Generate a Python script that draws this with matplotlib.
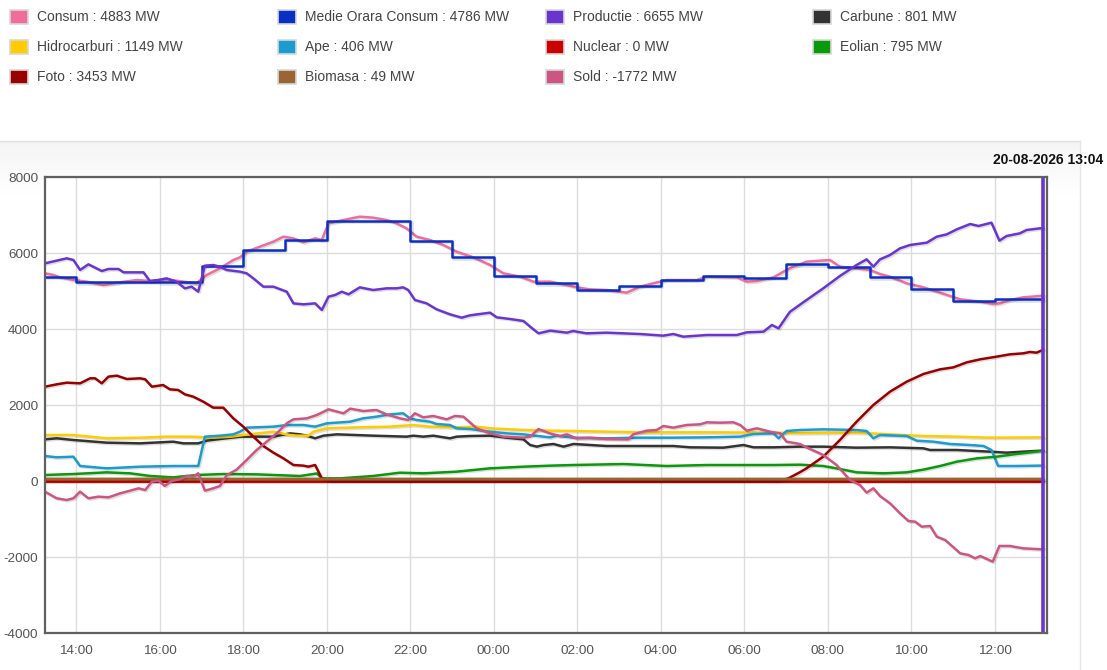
import matplotlib
matplotlib.use("Agg")
import matplotlib.pyplot as plt
import matplotlib.patheffects as pe
from matplotlib.patches import Rectangle
from matplotlib.lines import Line2D
import numpy as np

plt.rcParams['font.family'] = ['Liberation Sans', 'DejaVu Sans']
plt.rcParams['axes.unicode_minus'] = False

# times are hours counted from 00:00 of the first day (37.16 = 13:10 next day)
consum_t = [13.25, 13.45, 13.61, 13.93, 14.25, 14.65, 14.97, 15.45, 15.77, 16.16, 16.56, 16.88,
            17.12, 17.44, 17.76, 17.92, 18.08, 18.40, 18.72, 18.96, 19.20, 19.44, 19.72, 19.88,
            20.04, 20.40, 20.79, 21.11, 21.43, 21.67, 21.91, 22.15, 22.47, 22.79, 23.11, 23.51,
            23.91, 24.23, 24.63, 24.95, 25.35, 25.75, 25.98, 26.30, 26.70, 27.18, 27.50, 27.82,
            28.14, 28.86, 29.10, 29.82, 30.06, 30.30, 30.70, 31.01, 31.17, 31.33, 31.49, 32.05,
            32.29, 32.69, 33.01, 33.25, 33.49, 33.89, 34.29, 34.69, 34.93, 35.17, 35.65, 35.96,
            36.12, 36.36, 36.68, 37.08, 37.16]
consum_v = [5465, 5421, 5360, 5289, 5246, 5158, 5219, 5289, 5263, 5307, 5246, 5202,
            5421, 5596, 5816, 5886, 6035, 6167, 6298, 6430, 6386, 6281, 6386, 6342,
            6781, 6868, 6956, 6930, 6868, 6781, 6649, 6430, 6342, 6211, 6035, 5886,
            5684, 5465, 5377, 5246, 5246, 5158, 5096, 5044, 5026, 4956, 5114, 5202,
            5289, 5289, 5377, 5360, 5246, 5263, 5360, 5553, 5640, 5702, 5772, 5816,
            5640, 5596, 5553, 5447, 5377, 5202, 5096, 4956, 4868, 4781, 4719, 4658,
            4675, 4763, 4833, 4868, 4883]

medie_t = [13.25, 14, 15, 16, 17, 18, 19, 20, 21, 22, 23, 24, 25, 26, 27, 28, 29, 30,
           31, 32, 33, 34, 35, 36, 37.16]
medie_v = [5377, 5228, 5240, 5228, 5667, 6080, 6342, 6842, 6842, 6316, 5886, 5404, 5202,
           5026, 5132, 5290, 5395, 5350, 5700, 5640, 5360, 5044, 4746, 4786, 4786]

prod_t = [13.25, 13.77, 13.93, 14.09, 14.29, 14.61, 14.77, 15.01, 15.13, 15.61, 15.76, 15.96,
          16.16, 16.40, 16.60, 16.76, 16.92, 17.08, 17.28, 17.44, 17.60, 17.92, 18.08, 18.24,
          18.48, 18.72, 19.04, 19.20, 19.44, 19.72, 19.88, 20.04, 20.20, 20.36, 20.52, 20.79,
          21.11, 21.43, 21.67, 21.83, 21.95, 22.11, 22.39, 22.63, 22.95, 23.23, 23.43, 23.91,
          24.07, 24.39, 24.71, 24.87, 25.07, 25.35, 25.75, 25.90, 26.22, 26.70, 27.50, 28.06,
          28.30, 28.54, 29.10, 29.82, 30.06, 30.46, 30.66, 30.82, 31.09, 31.49, 31.89, 32.29,
          32.69, 32.93, 33.09, 33.25, 33.49, 33.73, 33.97, 34.37, 34.61, 34.85, 35.09, 35.41,
          35.61, 35.92, 36.11, 36.28, 36.60, 36.76, 37.08, 37.16]
prod_v = [5728, 5860, 5816, 5553, 5702, 5526, 5579, 5579, 5491, 5491, 5263, 5289,
          5333, 5246, 5070, 5114, 4982, 5667, 5684, 5640, 5553, 5509, 5465, 5333,
          5114, 5114, 4982, 4675, 4649, 4675, 4500, 4851, 4895, 4982, 4912, 5096,
          5026, 5070, 5070, 5096, 5026, 4763, 4675, 4518, 4386, 4298, 4360, 4430,
          4307, 4263, 4211, 4061, 3886, 3956, 3904, 3947, 3886, 3904, 3868, 3825,
          3868, 3798, 3842, 3842, 3912, 3930, 4105, 4018, 4450, 4763, 5070, 5395,
          5684, 5833, 5640, 5833, 5947, 6123, 6211, 6272, 6430, 6491, 6623, 6763,
          6711, 6798, 6325, 6447, 6518, 6605, 6649, 6655]

carb_t = [13.25, 13.53, 13.93, 14.73, 15.53, 16.32, 16.56, 16.92, 17.12, 17.44, 17.92, 18.72,
          19.12, 19.36, 19.52, 19.72, 19.92, 20.24, 21.11, 21.91, 22.07, 22.31, 22.55, 22.95,
          23.11, 23.43, 23.91, 24.31, 24.71, 24.87, 25.03, 25.19, 25.43, 25.67, 25.91, 26.70,
          27.50, 28.30, 28.70, 29.50, 29.98, 30.22, 30.70, 31.33, 31.89, 32.69, 33.49, 34.29,
          34.45, 35.09, 35.57, 35.89, 36.28, 36.68, 37.16]
carb_v = [1096, 1123, 1079, 1009, 991, 1035, 991, 991, 1061, 1105, 1167, 1167,
          1254, 1228, 1193, 1123, 1193, 1228, 1193, 1167, 1193, 1167, 1193, 1123,
          1167, 1184, 1193, 1140, 1096, 947, 904, 947, 974, 904, 974, 921,
          921, 921, 886, 877, 947, 886, 886, 904, 904, 877, 886, 860,
          816, 816, 789, 772, 746, 772, 801]

hidro_t = [13.25, 13.93, 14.73, 15.53, 16.16, 16.72, 17.28, 17.72, 18.00, 18.72, 19.12, 19.28,
           19.56, 19.68, 20.00, 20.72, 21.51, 22.07, 22.47, 23.11, 23.59, 23.91, 24.71, 25.35,
           25.91, 27.50, 29.10, 30.70, 31.33, 32.69, 33.49, 34.29, 35.09, 35.89, 37.16]
hidro_v = [1210, 1210, 1123, 1140, 1167, 1167, 1140, 1167, 1210, 1298, 1210, 1193,
           1193, 1298, 1386, 1412, 1430, 1474, 1430, 1412, 1430, 1386, 1342, 1325,
           1316, 1281, 1281, 1272, 1260, 1272, 1228, 1184, 1167, 1140, 1149]

ape_t = [13.25, 13.53, 13.93, 14.09, 14.73, 15.53, 16.32, 16.92, 17.08, 17.44, 17.76, 17.92,
         18.08, 18.72, 19.04, 19.44, 19.72, 20.00, 20.56, 20.87, 21.19, 21.51, 21.83, 21.99,
         22.15, 22.47, 22.63, 22.95, 23.11, 23.43, 23.91, 24.31, 24.71, 25.19, 25.35, 25.51,
         25.91, 26.70, 27.50, 28.30, 29.10, 29.90, 30.22, 30.70, 30.82, 31.01, 31.33, 31.89,
         32.69, 32.93, 33.09, 33.25, 33.89, 34.13, 34.53, 34.93, 35.41, 35.73, 35.92, 36.08,
         36.52, 37.16]
ape_v = [658, 623, 640, 395, 333, 377, 395, 395, 1167, 1193, 1228, 1298,
         1404, 1430, 1474, 1474, 1430, 1518, 1561, 1649, 1693, 1754, 1781, 1649,
         1605, 1561, 1500, 1474, 1386, 1368, 1298, 1254, 1228, 1167, 1149, 1193,
         1140, 1123, 1140, 1140, 1149, 1167, 1237, 1254, 1123, 1316, 1342, 1360,
         1342, 1316, 1123, 1210, 1184, 1061, 1035, 974, 947, 921, 816, 395,
         395, 406]

nuclear_t = [13.25, 37.16]
nuclear_v = [0, 0]

eolian_t = [13.25, 13.93, 14.73, 15.29, 15.77, 16.32, 16.88, 17.52, 18.32, 19.36, 19.68, 19.76,
            19.88, 20.32, 21.11, 21.75, 22.31, 23.11, 23.91, 24.71, 25.35, 25.91, 27.10, 28.14,
            29.10, 30.70, 31.33, 31.89, 32.29, 32.69, 33.33, 33.89, 34.29, 34.69, 35.09, 35.57,
            36.04, 36.52, 37.16]
eolian_v = [158, 184, 228, 202, 132, 96, 158, 184, 175, 132, 184, 200,
            70, 70, 132, 219, 202, 246, 333, 377, 404, 421, 447, 395,
            421, 421, 430, 395, 316, 228, 202, 228, 300, 395, 509, 596,
            640, 711, 795]

foto_t = [13.25, 13.53, 13.77, 14.09, 14.33, 14.45, 14.61, 14.77, 14.97, 15.21, 15.53, 15.65,
          15.81, 16.08, 16.24, 16.44, 16.60, 16.80, 17.04, 17.28, 17.52, 17.76, 18.00, 18.24,
          18.48, 18.72, 18.96, 19.20, 19.44, 19.56, 19.72, 19.88, 20.08, 30.80, 30.95, 31.09,
          31.33, 31.49, 31.89, 32.29, 32.69, 33.09, 33.49, 33.89, 34.29, 34.69, 35.01, 35.33,
          35.65, 36.04, 36.36, 36.68, 36.84, 37.00, 37.16]
foto_v = [2482, 2544, 2588, 2570, 2702, 2702, 2570, 2746, 2772, 2684, 2702, 2675,
          2482, 2526, 2412, 2395, 2281, 2219, 2088, 1930, 1930, 1649, 1430, 1167,
          921, 746, 596, 421, 404, 377, 421, 70, 5, 5, 30, 90,
          230, 333, 640, 1079, 1561, 2000, 2351, 2614, 2816, 2939, 2991, 3123,
          3202, 3272, 3333, 3360, 3395, 3377, 3453]

biomasa_t = [13.25, 37.16]
biomasa_v = [50, 49]

sold_t = [13.25, 13.53, 13.77, 13.93, 14.09, 14.29, 14.53, 14.77, 15.05, 15.29, 15.49, 15.65,
          15.81, 15.97, 16.12, 16.28, 16.48, 16.64, 16.80, 16.92, 17.08, 17.28, 17.44, 17.60,
          17.84, 18.08, 18.32, 18.56, 18.80, 19.04, 19.20, 19.52, 19.76, 20.04, 20.40, 20.56,
          20.87, 21.19, 21.43, 21.75, 21.95, 22.11, 22.31, 22.55, 22.87, 23.07, 23.27, 23.59,
          23.91, 24.23, 24.71, 24.87, 25.07, 25.35, 25.59, 25.75, 25.98, 26.30, 26.70, 27.22,
          27.34, 27.66, 27.90, 28.06, 28.30, 28.62, 28.94, 29.10, 29.42, 29.74, 29.90, 30.06,
          30.30, 30.62, 30.86, 31.01, 31.33, 31.49, 31.89, 32.21, 32.53, 32.77, 32.93, 33.09,
          33.25, 33.49, 33.73, 33.93, 34.09, 34.25, 34.45, 34.61, 34.81, 35.01, 35.17, 35.37,
          35.53, 35.65, 35.95, 36.11, 36.36, 36.68, 37.12, 37.16]
sold_v = [-281, -456, -500, -456, -281, -456, -412, -430, -325, -254, -193, -237,
          -18, 9, -132, 0, 44, 132, 114, 202, -254, -193, -132, 150,
          300, 553, 816, 1035, 1254, 1518, 1623, 1649, 1737, 1886, 1781, 1904,
          1842, 1868, 1754, 1649, 1605, 1781, 1675, 1711, 1623, 1711, 1693, 1386,
          1254, 1167, 1140, 1167, 1368, 1250, 1184, 1228, 1123, 1140, 1105, 1096,
          1228, 1325, 1342, 1447, 1404, 1474, 1491, 1544, 1535, 1544, 1474, 1325,
          1386, 1298, 1254, 1035, 974, 886, 684, 421, 26, -105, -307, -193,
          -395, -588, -851, -1053, -1070, -1202, -1184, -1465, -1553, -1746, -1904, -1947,
          -2035, -1974, -2123, -1710, -1710, -1772, -1798, -1772]

names = ["Consum", "Medie Orara Consum", "Productie", "Carbune",
         "Hidrocarburi", "Ape", "Nuclear", "Eolian",
         "Foto", "Biomasa", "Sold"]
current = [4883, 4786, 6655, 801, 1149, 406, 0, 795, 3453, 49, -1772]
colors = ["#f06c9b", "#0a2fc4", "#6a35cf", "#333333",
          "#ffcc00", "#1a9cce", "#cc0000", "#0a990a",
          "#990000", "#996633", "#cc5581"]
series_t = [consum_t, medie_t, prod_t, carb_t, hidro_t, ape_t, nuclear_t,
            eolian_t, foto_t, biomasa_t, sold_t]
series_v = [consum_v, medie_v, prod_v, carb_v, hidro_v, ape_v, nuclear_v,
            eolian_v, foto_v, biomasa_v, sold_v]

x_ticks = list(range(14, 37, 2))
x_labels = [f"{h % 24:02d}:00" for h in x_ticks]
y_ticks = [-4000, -2000, 0, 2000, 4000, 6000, 8000]
stamp = "20-08-2026 13:04"

W, H = 1107, 670
fig = plt.figure(figsize=(W / 100, H / 100), dpi=100)

# light frame with a faint gradient at its top
bg = fig.add_axes([0, 0, 1080 / W, 529 / H], zorder=-5)
grad = np.clip(np.arange(529) / 60.0, 0, 1)
grad = 0.955 + 0.045 * grad
bg.imshow(grad[:, None], cmap="gray", vmin=0, vmax=1, aspect="auto",
          extent=[0, 1, 0, 1])
bg.axis("off")
fig.add_artist(Line2D([0, 1080 / W], [529 / H, 529 / H], color="#dedede", lw=1))
fig.add_artist(Line2D([1080 / W, 1080 / W], [0, 529 / H], color="#e6e6e6", lw=1))

ax = fig.add_axes([45 / W, 37 / H, 1002 / W, 456 / H])
ax.set_facecolor("white")

shadow = [pe.SimpleLineShadow(offset=(1, -1), shadow_color="black", alpha=0.13), pe.Normal()]
for t, v, c, n in zip(series_t, series_v, colors, names):
    if n == "Medie Orara Consum":
        ax.plot(t, v, color=c, lw=1.8, drawstyle="steps-post", path_effects=shadow)
    elif n in ("Nuclear", "Biomasa"):
        ax.plot(t, v, color=c, lw=2.2, path_effects=shadow)
    else:
        ax.plot(t, v, color=c, lw=1.8, path_effects=shadow)

ax.axvline(prod_t[-1], color="#6a35cf", lw=2.6)

ax.set_xlim(13.25, 37.25)
ax.set_ylim(-4000, 8000)
ax.set_xticks(x_ticks)
ax.set_xticklabels(x_labels)
ax.set_yticks(y_ticks)
ax.grid(True, color="#dcdcdc", lw=1)
ax.set_axisbelow(True)
ax.tick_params(length=0, labelsize=9.7, labelcolor="#555555")
ax.tick_params(axis="x", pad=9)
ax.tick_params(axis="y", pad=5)
for s in ax.spines.values():
    s.set_color("#606060")
    s.set_linewidth(1.6)

fig.text(1103 / W, 1 - 160 / H, stamp, ha="right", va="center",
         fontsize=10, fontweight="bold", color="#111111")

# legend, 4 columns x 3 rows
col_x = [10, 278, 546, 813]
row_y = [17, 47, 77]
for i, (n, c, val) in enumerate(zip(names, colors, current)):
    cx = col_x[i % 4]
    cy = row_y[i // 4]
    fig.add_artist(Rectangle((cx / W, 1 - (cy + 7) / H), 18 / W, 14 / H,
                             transform=fig.transFigure, facecolor=c,
                             edgecolor="#d8d8d8", lw=1.2))
    fig.text((cx + 27) / W, 1 - cy / H, f"{n} : {val} MW", ha="left", va="center",
             fontsize=10, color="#444444")

fig.savefig("out.png", dpi=100)
